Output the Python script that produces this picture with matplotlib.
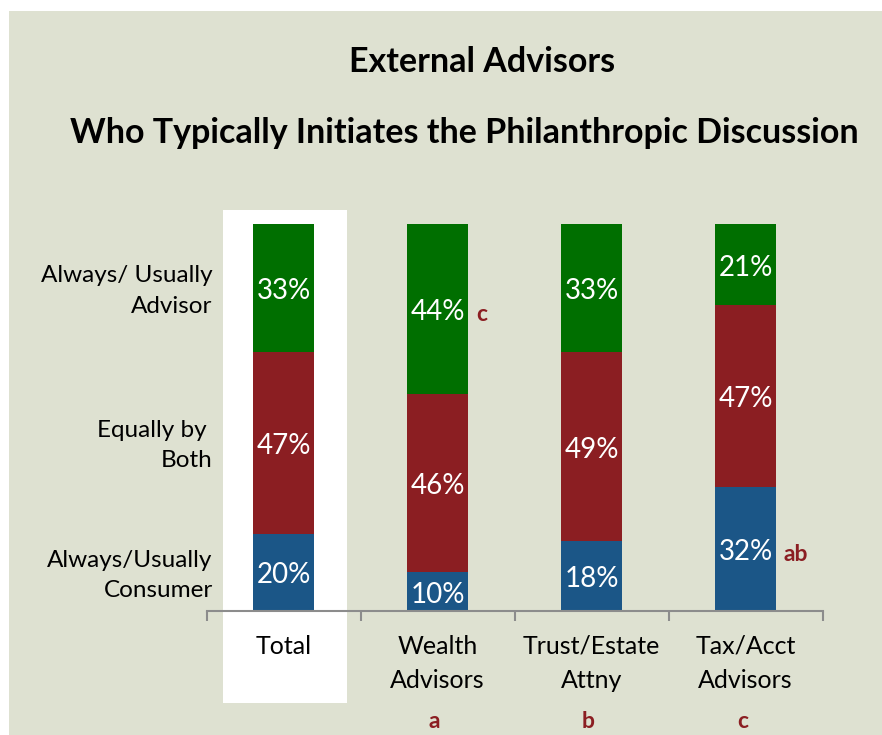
import matplotlib.pyplot as plt
from matplotlib.patches import Rectangle
import matplotlib.transforms as mtransforms

plt.rcParams['font.family'] = ['Lato', 'DejaVu Sans']

categories = ["Total", "Wealth\nAdvisors", "Trust/Estate\nAttny", "Tax/Acct\nAdvisors"]
group_letters = ["", "a", "b", "c"]
consumer = [20, 10, 18, 32]
both = [47, 46, 49, 47]
advisor = [33, 44, 33, 21]
series_labels = ["Always/Usually\nConsumer", "Equally by \nBoth", "Always/ Usually\nAdvisor"]

bg = "#dee1d1"
green = "#006f00"
red = "#8b1e22"
blue = "#1b5687"
mark = "#8b1e22"

fig = plt.figure(figsize=(8.82, 7.35), dpi=100)
fig.patches.append(Rectangle((9 / 882, 0), 1, 1 - 11 / 735, transform=fig.transFigure,
                             facecolor=bg, edgecolor="none", zorder=-10))
# white box behind the Total column
fig.patches.append(Rectangle((223 / 882, 1 - 703 / 735), 124 / 882, 493 / 735,
                             transform=fig.transFigure, facecolor="white",
                             edgecolor="none", zorder=-9))

ax = fig.add_axes([206.5 / 882, 1 - 611 / 735, 616 / 882, 387 / 735])
ax.patch.set_visible(False)

x = list(range(len(categories)))
w = 0.396
ax.bar(x, consumer, w, color=blue)
ax.bar(x, both, w, bottom=consumer, color=red)
bottom2 = [c + b for c, b in zip(consumer, both)]
ax.bar(x, advisor, w, bottom=bottom2, color=green)

off = -0.8  # labels sit a touch below segment centres
for i in x:
    for val, base in [(consumer[i], 0), (both[i], consumer[i]), (advisor[i], bottom2[i])]:
        ax.text(i, base + val / 2 + off, f"{val}%", ha="center", va="center",
                color="white", fontsize=20)

# series labels, placed at the Total segments
mids = [consumer[0] / 2, consumer[0] + both[0] / 2, bottom2[0] + advisor[0] / 2]
for lab, m in zip(series_labels, mids):
    ax.text(-0.46, m + off, lab, ha="right", va="center", fontsize=17.5, linespacing=1.55)

# significance marks
ax.text(1.25, bottom2[1] + advisor[1] / 2 - 1.5, "c", color=mark, fontsize=16.5,
        fontweight="bold", ha="left", va="center")
ax.text(3.25, consumer[3] / 2 - 1.5, "ab", color=mark, fontsize=16.5,
        fontweight="bold", ha="left", va="center")

ax.set_xlim(-0.5, 3.5)
ax.set_ylim(0, 100)
for s in ["top", "right", "left"]:
    ax.spines[s].set_visible(False)
ax.spines["bottom"].set_color("#8c8c8c")
ax.spines["bottom"].set_linewidth(1.5)
ax.set_yticks([])
ax.set_xticks(x)
ax.set_xticklabels(categories, fontsize=18, linespacing=1.6)
ax.tick_params(axis="x", which="major", length=0, pad=17)
ax.set_xticks([-0.5, 0.5, 1.5, 2.5, 3.5], minor=True)
ax.tick_params(axis="x", which="minor", length=7, width=1.5, color="#8c8c8c", direction="out")

trans = mtransforms.blended_transform_factory(ax.transData, fig.transFigure)
for i, letter in zip(x, group_letters):
    ax.text(i - 0.02, 1 - 722 / 735, letter, transform=trans, color=mark, fontsize=16.5,
            fontweight="bold", ha="center", va="center")

fig.text(482 / 882, 1 - 62 / 735, "External Advisors", ha="center", va="center",
         fontsize=24.5, fontweight="bold")
fig.text(464 / 882, 1 - 133 / 735, "Who Typically Initiates the Philanthropic Discussion",
         ha="center", va="center", fontsize=24.5, fontweight="bold")

fig.savefig("out.png", dpi=100)
